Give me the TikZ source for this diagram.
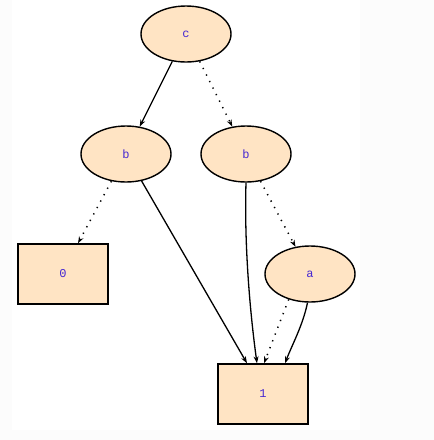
\documentclass[tikz,border=0pt]{standalone}
\usepackage{fontspec}
\setmonofont{Liberation Mono}
\usetikzlibrary{shapes.geometric,arrows.meta}
\definecolor{nodefill}{RGB}{255,228,196}
\definecolor{txt}{RGB}{70,40,210}
\definecolor{outerbg}{RGB}{252,252,252}
\tikzset{
  every node/.style={font=\ttfamily\fontsize{12}{14}\selectfont, text=txt},
  ell/.style={ellipse, draw=black, line width=1.4pt, fill=nodefill, minimum width=90pt, minimum height=56pt, inner sep=0pt},
  boxn/.style={rectangle, draw=black, line width=1.4pt, fill=nodefill, minimum width=90pt, minimum height=60pt, inner sep=0pt},
  hi/.style={draw=black, line width=1.3pt, -{Stealth[length=7pt,width=5pt]}},
  lo/.style={draw=black, line width=1.5pt, dotted, dash pattern=on 1.3pt off 6pt, -{Stealth[length=7pt,width=5pt,line width=0pt]}}
}
\begin{document}
\begin{tikzpicture}[x=1pt,y=-1pt]
\useasboundingbox (0,0) rectangle (434,440);
\fill[outerbg] (0,0) rectangle (434,440);
\fill[white] (12,0) rectangle (360,430);
\node[ell] (c) at (186,34) {c};
\node[ell] (b1) at (126,154) {b};
\node[ell] (b2) at (246,154) {b};
\node[ell] (a) at (310,274) {a};
\node[boxn] (z) at (63,274) {0};
\node[boxn] (o) at (263,394) {1};
\draw[hi] (c) -- (b1);
\draw[lo] (c) -- (b2);
\draw[lo] (b1) -- (z.north -| 78,0);
\draw[hi] (b1) -- (o.north -| 247,0);
\draw[hi] (b2.south) .. controls (244,250) and (251,320) .. (o.north -| 257,0);
\draw[lo] (b2) -- (a);
\draw[lo] (a.230) -- (o.north -| 264,0);
\draw[hi] (a.265) .. controls (303,325) and (292,345) .. (o.north -| 285,0);
\end{tikzpicture}
\end{document}
